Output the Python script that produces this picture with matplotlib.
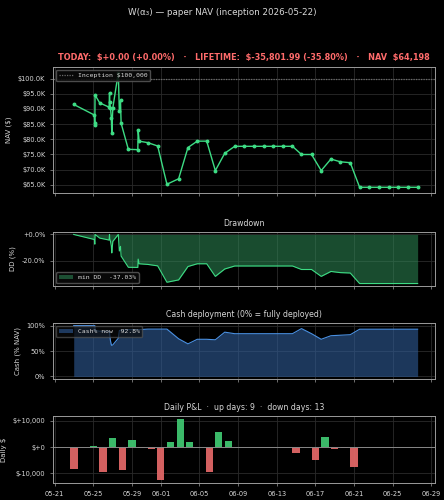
import matplotlib
matplotlib.use("Agg")
import matplotlib.pyplot as plt
import matplotlib.dates as mdates
from matplotlib.ticker import FuncFormatter, MultipleLocator
import numpy as np
import pandas as pd

# ---------------- data ----------------
timestamps = [
    "2026-05-22 23:20", "2026-05-25 02:50", "2026-05-25 03:20", "2026-05-25 03:50",
    "2026-05-25 04:20", "2026-05-25 16:00", "2026-05-26 15:20", "2026-05-26 16:20",
    "2026-05-26 17:00", "2026-05-26 18:45", "2026-05-26 20:50", "2026-05-26 22:00",
    "2026-05-27 00:30", "2026-05-27 14:10", "2026-05-27 16:45", "2026-05-27 19:40",
    "2026-05-27 21:10", "2026-05-28 15:10", "2026-05-29 14:40", "2026-05-29 15:35",
    "2026-05-29 18:00", "2026-05-30 15:40", "2026-05-31 16:05", "2026-06-01 15:05",
    "2026-06-02 20:10", "2026-06-03 19:25", "2026-06-04 18:30", "2026-06-05 18:00",
    "2026-06-06 15:25", "2026-06-07 14:50", "2026-06-08 15:40", "2026-06-09 14:55",
    "2026-06-10 15:05", "2026-06-11 16:00", "2026-06-12 15:10", "2026-06-13 16:00",
    "2026-06-14 15:10", "2026-06-15 13:40", "2026-06-16 14:40", "2026-06-17 14:40",
    "2026-06-18 14:50", "2026-06-19 14:05", "2026-06-20 14:55", "2026-06-21 14:10",
    "2026-06-22 14:25", "2026-06-23 14:25", "2026-06-24 14:25", "2026-06-25 14:25",
    "2026-06-26 14:25", "2026-06-27 14:25",
]
nav_k = [
    91.5, 88.0, 85.5, 84.8, 94.6, 92.0, 90.6, 95.3, 92.2, 90.3,
    87.0, 82.0, 90.3, 101.95, 89.2, 92.8, 85.3, 76.7, 76.6, 83.0,
    79.4, 78.9, 77.8, 65.2, 67.0, 77.3, 79.4, 79.4, 69.7, 75.4,
    77.7, 77.7, 77.7, 77.7, 77.7, 77.7, 77.7, 75.0, 75.0, 69.7,
    73.5, 72.6, 72.3, 64.198, 64.198, 64.198, 64.198, 64.198, 64.198, 64.198,
]
cash_pct = [
    100, 100, 100, 100, 90, 89, 89, 88, 80, 70,
    62, 61, 62, 75, 90, 91, 91, 92, 92, 92,
    92, 93, 93, 93, 74, 64, 73, 73, 72, 87,
    84, 84, 84, 84, 84, 84, 84, 94, 84, 73,
    80, 81, 82, 92.8, 92.8, 92.8, 92.8, 92.8, 92.8, 92.8,
]
pnl_dates = [
    "2026-05-23", "2026-05-25", "2026-05-26", "2026-05-27", "2026-05-28",
    "2026-05-29", "2026-05-30", "2026-05-31", "2026-06-01", "2026-06-02",
    "2026-06-03", "2026-06-04", "2026-06-06", "2026-06-07", "2026-06-08",
    "2026-06-15", "2026-06-17", "2026-06-18", "2026-06-19", "2026-06-20",
    "2026-06-21",
]
pnl_values = [
    -8400, 500, -9400, 3300, -8700,
    2800, -500, -900, -12500, 1800,
    10700, 2000, -9600, 5900, 2300,
    -2400, -5000, 3800, -900, -300,
    -7400,
]
inception_value = 100000
header_text = ("TODAY:  $+0.00 (+0.00%)   ·   LIFETIME:  $-35,801.99 (-35.80%)"
               "   ·   NAV  $64,198")
suptitle_text = "W(α₃) — paper NAV (inception 2026-05-22)"
pnl_title = "Daily P&L  ·  up days: 9  ·  down days: 13"

# ---------------- style ----------------
BG = "#000000"
TXT = "#d8d8d8"
SPINE = "#9a9a9a"
GRID = "#2a2a2a"
GREEN = "#3ddc84"
BAR_GREEN = "#3fc470"
BAR_RED = "#e06666"
BLUE = "#4a90e2"
HEAD_RED = "#ff6b6b"

plt.rcParams.update({
    "figure.facecolor": BG,
    "axes.facecolor": BG,
    "savefig.facecolor": BG,
    "text.color": TXT,
    "axes.labelcolor": TXT,
    "xtick.color": SPINE,
    "ytick.color": SPINE,
    "xtick.labelcolor": TXT,
    "ytick.labelcolor": TXT,
    "axes.edgecolor": SPINE,
    "font.family": ["DejaVu Sans"],
    "font.size": 4.8,
    "xtick.labelsize": 4.8,
    "ytick.labelsize": 4.8,
    "axes.labelsize": 5.0,
    "xtick.major.size": 2,
    "ytick.major.size": 2,
    "xtick.major.width": 0.5,
    "ytick.major.width": 0.5,
    "axes.linewidth": 0.7,
})

t = pd.to_datetime(timestamps)
nav = np.array(nav_k) * 1000.0
dd = (nav / np.maximum.accumulate(nav) - 1.0) * 100.0
cash = np.array(cash_pct, dtype=float)
pd_dates = pd.to_datetime(pnl_dates)
pnl = np.array(pnl_values, dtype=float)

W, H = 444, 500
fig = plt.figure(figsize=(W / 100, H / 100), dpi=100)

def rect(l, t_, r, b):
    return [l / W, 1 - b / H, (r - l) / W, (b - t_) / H]

ax1 = fig.add_axes(rect(53, 67, 435, 193))
ax2 = fig.add_axes(rect(53, 232, 435, 286), sharex=ax1)
ax3 = fig.add_axes(rect(53, 323, 435, 379), sharex=ax1)
ax4 = fig.add_axes(rect(53, 416, 435, 483), sharex=ax1)

for ax in (ax1, ax2, ax3, ax4):
    ax.grid(True, color=GRID, linewidth=0.6)
    ax.set_axisbelow(True)

mono = {"family": "DejaVu Sans Mono", "size": 4.6}

# NAV
ax1.axhline(inception_value, color="#6a6a6a", linestyle=(0, (1, 1)), linewidth=0.9,
            label="Inception $100,000")
ax1.plot(t, nav, color=GREEN, linewidth=1.0, marker="o", markersize=1.8)
ax1.yaxis.set_major_locator(MultipleLocator(5000))
ax1.yaxis.set_major_formatter(FuncFormatter(lambda v, p: f"${v/1000:.1f}K"))
ax1.set_ylabel("NAV ($)")
ax1.legend(loc="upper left", prop=mono, facecolor="#0a0a0a", edgecolor="#555555",
           framealpha=0.9, handlelength=2.2, borderpad=0.4)
ax1.set_title(header_text, color=HEAD_RED, fontweight="bold", fontsize=5.9, pad=5)

# Drawdown
ax2.fill_between(t, dd, 0, color="#2e8b57", alpha=0.55, linewidth=0,
                 label=f"min DD  {dd.min():.2f}%")
ax2.plot(t, dd, color=GREEN, linewidth=0.8)
ax2.yaxis.set_major_locator(MultipleLocator(20))
ax2.yaxis.set_major_formatter(FuncFormatter(lambda v, p: f"{v:+.1f}%"))
ax2.set_ylabel("DD (%)")
ax2.set_title("Drawdown", fontsize=5.6, pad=4)
ax2.legend(loc="lower left", prop=mono, facecolor="#0a0a0a", edgecolor="#555555",
           framealpha=0.9, handlelength=2.2, borderpad=0.4)

# Cash
ax3.fill_between(t, cash, 0, color="#2f5c99", alpha=0.6, linewidth=0,
                 label=f"Cash% now  {cash[-1]:.1f}%")
ax3.plot(t, cash, color=BLUE, linewidth=0.8)
ax3.set_yticks([0, 50, 100])
ax3.yaxis.set_major_formatter(FuncFormatter(lambda v, p: f"{v:.0f}%"))
ax3.set_ylabel("Cash (% NAV)")
ax3.set_title("Cash deployment (0% = fully deployed)", fontsize=5.6, pad=4)
ax3.legend(loc="upper left", prop=mono, facecolor="#0a0a0a", edgecolor="#555555",
           framealpha=0.7, handlelength=2.2, borderpad=0.4)

# Daily P&L
colors = [BAR_GREEN if v > 0 else BAR_RED for v in pnl]
ax4.bar(pd_dates, pnl, width=0.75, color=colors, alpha=0.95)
ax4.axhline(0, color="#888888", linewidth=0.7)
ax4.yaxis.set_major_locator(MultipleLocator(10000))
ax4.yaxis.set_major_formatter(FuncFormatter(lambda v, p: f"${v:+,.0f}"))
ax4.set_ylabel("Daily $")
ax4.set_title(pnl_title, fontsize=5.6, pad=4)

ax4.xaxis.set_major_locator(mdates.DayLocator(bymonthday=[1, 5, 9, 13, 17, 21, 25, 29]))
ax4.xaxis.set_major_formatter(mdates.DateFormatter("%m-%d"))
for ax in (ax1, ax2, ax3):
    plt.setp(ax.get_xticklabels(), visible=False)

fig.suptitle(suptitle_text, y=0.984, fontsize=6.3, color=TXT)

fig.savefig("out.png", dpi=100)
